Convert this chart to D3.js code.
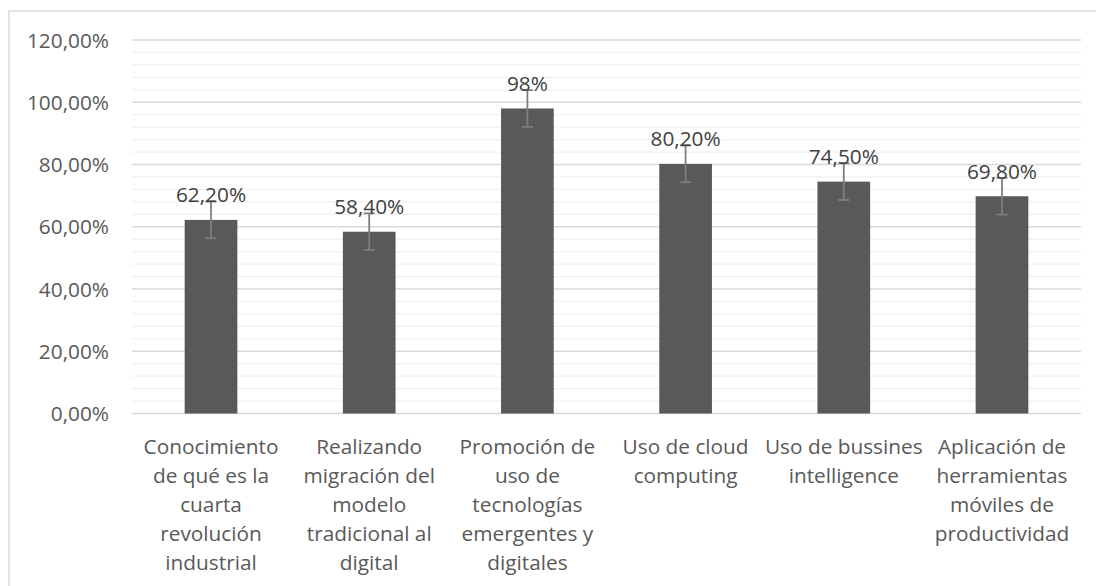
<!DOCTYPE html>
<html>
<head>
<meta charset="utf-8">
<script src="https://d3js.org/d3.v7.min.js"></script>
<style>
  body { margin: 0; background: #fff; }
  svg { display: block; font-family: "Open Sans", sans-serif; }
</style>
</head>
<body>
<svg id="chart" width="1096" height="586"></svg>
<script>
// data
var categories = [
  "Conocimiento\nde qué es la\ncuarta\nrevolución\nindustrial",
  "Realizando\nmigración del\nmodelo\ntradicional al\ndigital",
  "Promoción de\nuso de\ntecnologías\nemergentes y\ndigitales",
  "Uso de cloud\ncomputing",
  "Uso de bussines\nintelligence",
  "Aplicación de\nherramientas\nmóviles de\nproductividad"
];
var values = [62.2, 58.4, 98, 80.2, 74.5, 69.8];
var valueLabels = ["62,20%", "58,40%", "98%", "80,20%", "74,50%", "69,80%"];
var errors = [5.9, 5.9, 5.9, 5.9, 5.9, 5.9];
var yTicks = [0, 20, 40, 60, 80, 100, 120];

var svg = d3.select("#chart");
var plotLeft = 132, plotRight = 1081, plotTop = 40, plotBottom = 413.5;

// outer chart border (runs off the right and bottom of the picture)
svg.append("rect")
  .attr("x", 9).attr("y", 11)
  .attr("width", 1100).attr("height", 590)
  .attr("fill", "none")
  .attr("stroke", "#d9d9d9")
  .attr("stroke-width", 1.5);

var x = d3.scaleBand()
  .domain(d3.range(categories.length))
  .range([plotLeft, plotRight])
  .paddingInner(0.667)
  .paddingOuter(0.333);

var y = d3.scaleLinear().domain([0, 120]).range([plotBottom, plotTop]);

// minor gridlines every 4%
svg.append("g").selectAll("line")
  .data(d3.range(0, 121, 4).filter(function(d) { return d % 20 !== 0; }))
  .enter().append("line")
  .attr("x1", plotLeft).attr("x2", plotRight)
  .attr("y1", function(d) { return y(d); })
  .attr("y2", function(d) { return y(d); })
  .attr("stroke", "#f0f0f0")
  .attr("stroke-width", 1.3);

// major gridlines
svg.append("g").selectAll("line")
  .data(yTicks)
  .enter().append("line")
  .attr("x1", plotLeft).attr("x2", plotRight)
  .attr("y1", function(d) { return y(d); })
  .attr("y2", function(d) { return y(d); })
  .attr("stroke", "#d9d9d9")
  .attr("stroke-width", 1.3);

// y tick labels
svg.append("g").selectAll("text")
  .data(yTicks)
  .enter().append("text")
  .attr("x", 109)
  .attr("y", function(d) { return y(d) + 7.5; })
  .attr("text-anchor", "end")
  .attr("font-size", 20.8)
  .attr("fill", "#595959")
  .text(function(d) { return d3.format(".2f")(d).replace(".", ",") + "%"; });

// bars
svg.append("g").selectAll("rect")
  .data(values)
  .enter().append("rect")
  .attr("x", function(d, i) { return x(i); })
  .attr("y", function(d) { return y(d); })
  .attr("width", x.bandwidth())
  .attr("height", function(d) { return y(0) - y(d); })
  .attr("fill", "#595959");

// error bars
var eb = svg.append("g").attr("stroke", "#7f7f7f").attr("stroke-width", 1.8);
values.forEach(function(v, i) {
  var cx = x(i) + x.bandwidth() / 2;
  var y1 = y(v + errors[i]), y2 = y(v - errors[i]);
  eb.append("line").attr("x1", cx).attr("x2", cx).attr("y1", y1).attr("y2", y2);
  eb.append("line").attr("x1", cx - 5.5).attr("x2", cx + 5.5).attr("y1", y1).attr("y2", y1);
  eb.append("line").attr("x1", cx - 5.5).attr("x2", cx + 5.5).attr("y1", y2).attr("y2", y2);
});

// data labels
svg.append("g").selectAll("text")
  .data(values)
  .enter().append("text")
  .attr("x", function(d, i) { return x(i) + x.bandwidth() / 2; })
  .attr("y", function(d) { return y(d) - 17.5; })
  .attr("text-anchor", "middle")
  .attr("font-size", 20.8)
  .attr("fill", "#404040")
  .text(function(d, i) { return valueLabels[i]; });

// category labels
var cat = svg.append("g").selectAll("text")
  .data(categories)
  .enter().append("text")
  .attr("text-anchor", "middle")
  .attr("font-size", 20.8)
  .attr("fill", "#595959");

cat.each(function(d, i) {
  var t = d3.select(this);
  d.split("\n").forEach(function(line, k) {
    t.append("tspan")
      .attr("x", x(i) + x.bandwidth() / 2)
      .attr("y", 454 + k * 29)
      .text(line);
  });
});
</script>
</body>
</html>
